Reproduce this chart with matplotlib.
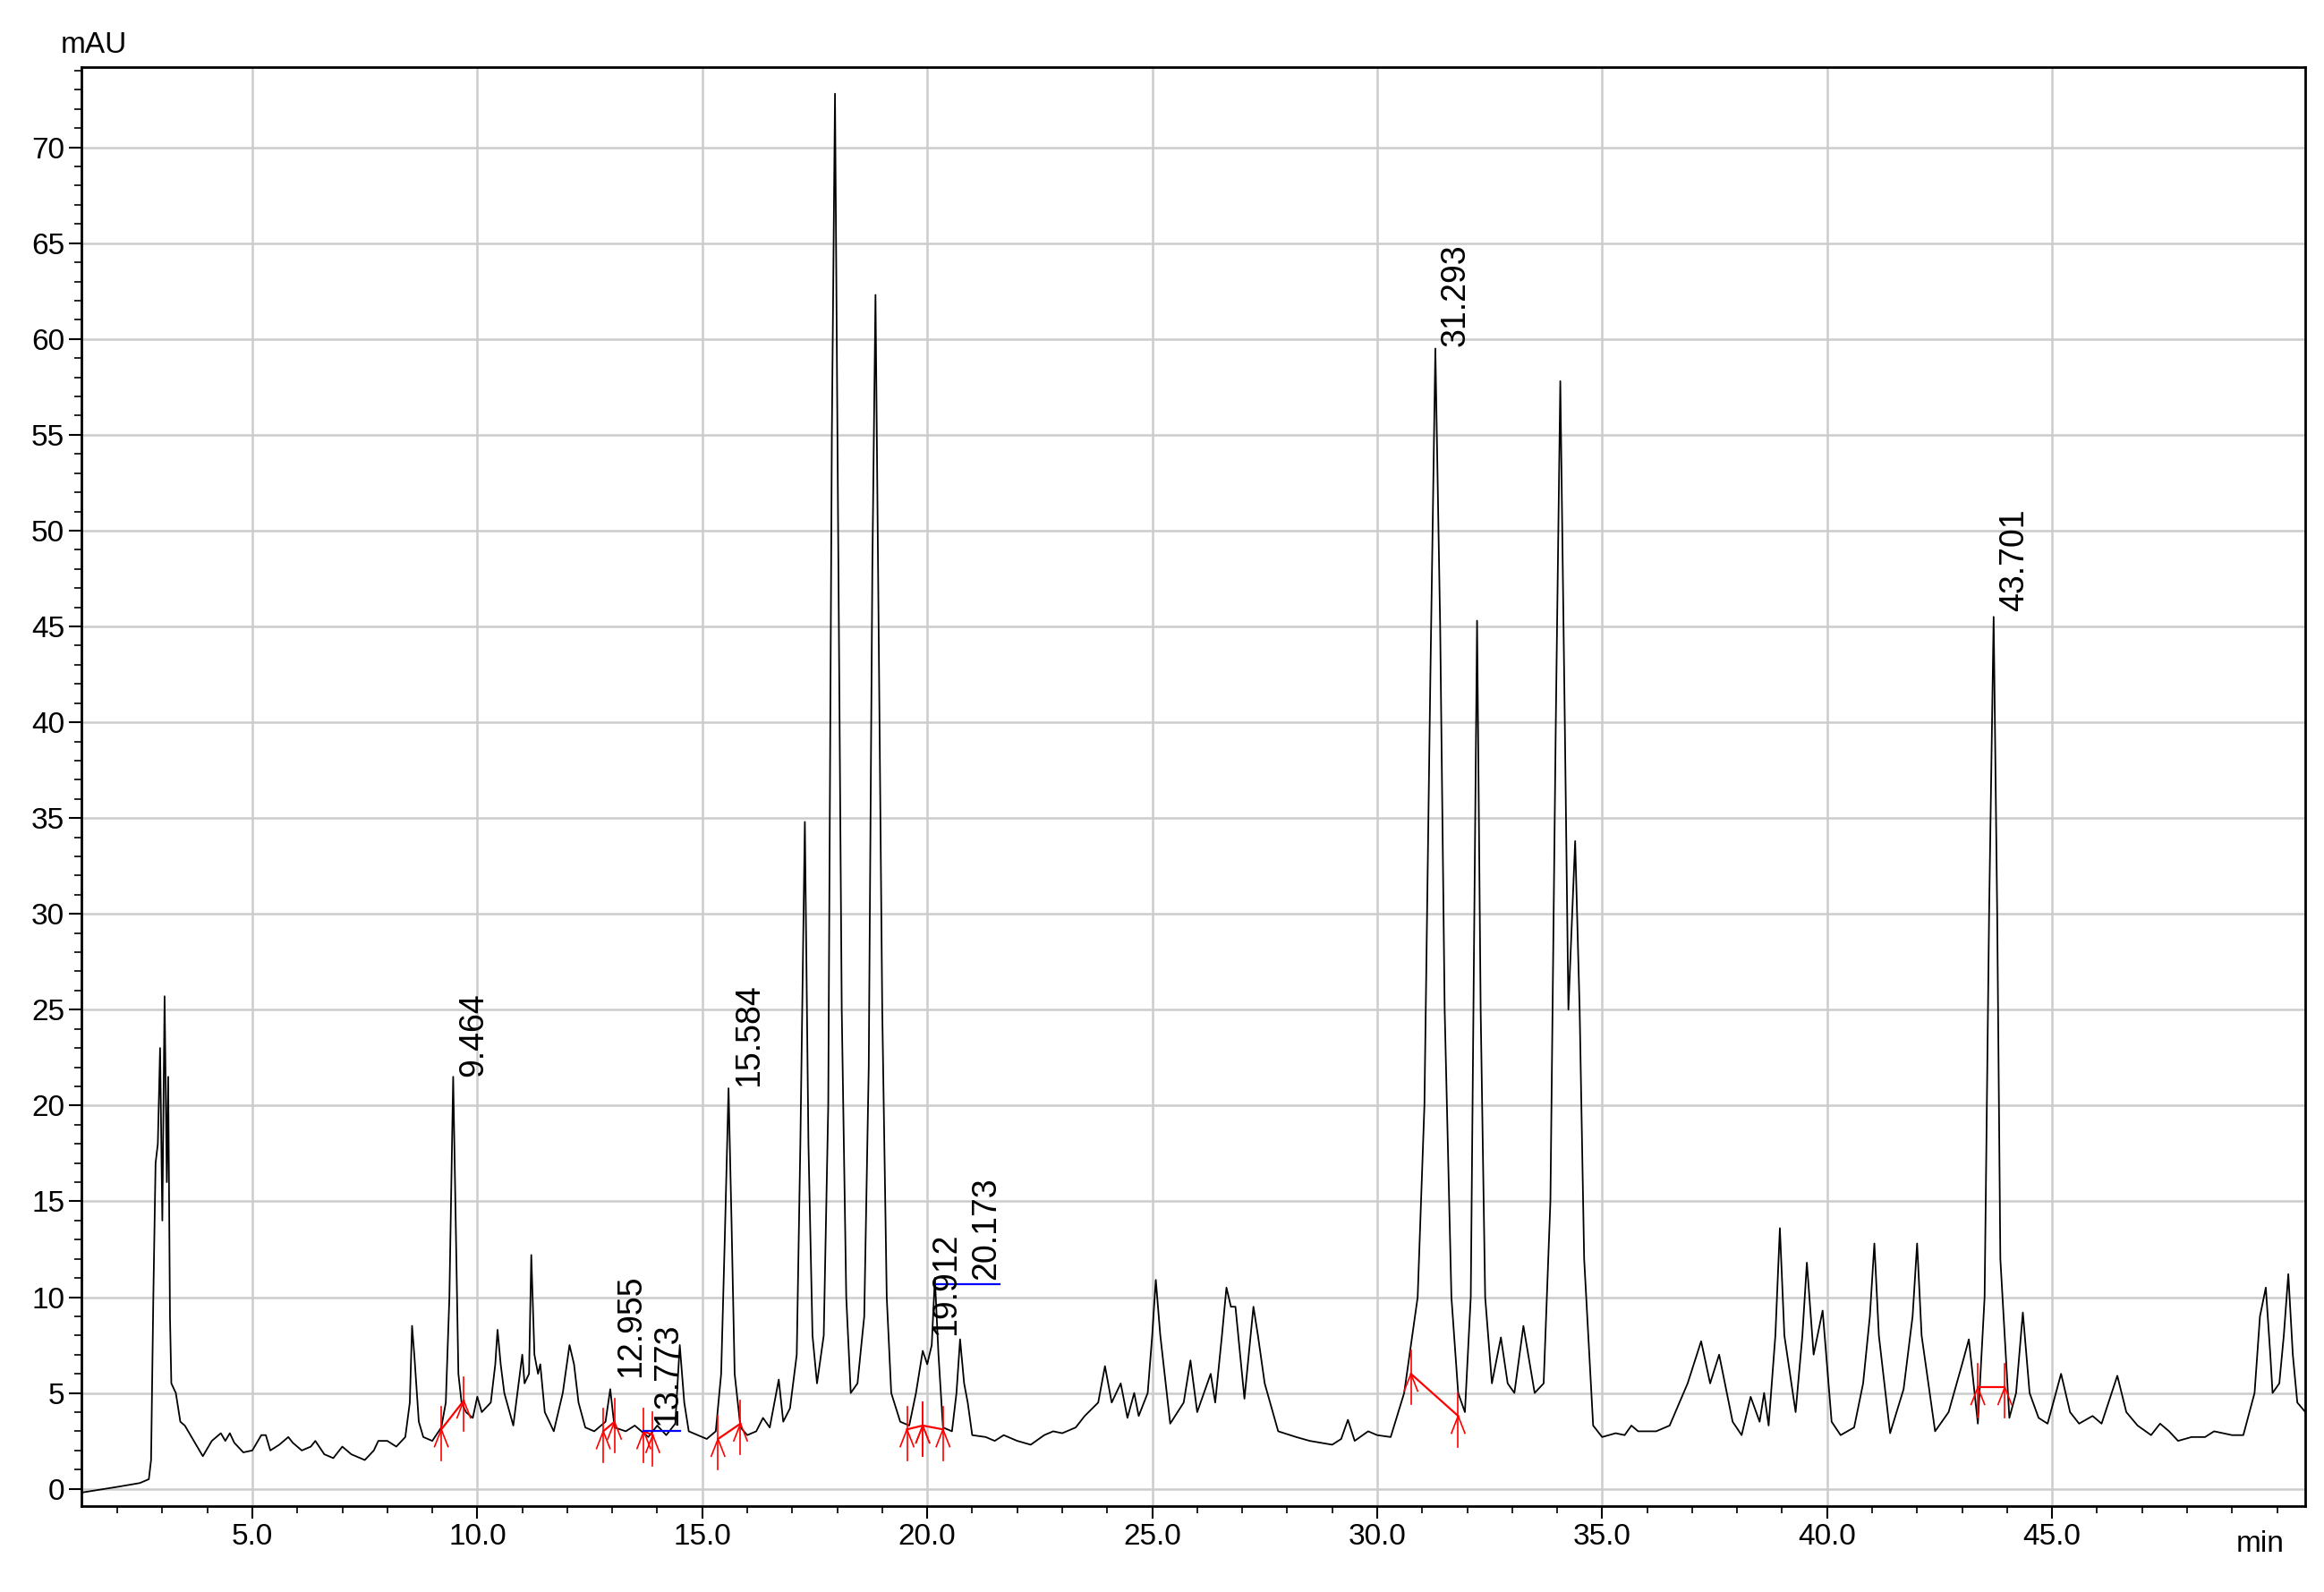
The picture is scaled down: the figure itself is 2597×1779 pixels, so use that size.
import matplotlib
matplotlib.use('Agg')
import matplotlib.pyplot as plt
from matplotlib.ticker import MultipleLocator

# trace (min, mAU)
t = [1.2, 2.0, 2.5, 2.7, 2.75, 2.8, 2.85, 2.9, 2.95, 3.0, 3.05, 3.1, 3.13, 3.17, 3.2, 3.3, 3.4, 3.5,
     3.7, 3.9, 4.1, 4.3, 4.4, 4.5, 4.6, 4.8, 5.0, 5.2, 5.3, 5.4, 5.6, 5.8, 5.9, 6.1, 6.3, 6.4, 6.6,
     6.8, 7.0, 7.2, 7.5, 7.7, 7.8, 8.0, 8.2, 8.4, 8.5, 8.55, 8.6, 8.7, 8.8, 9.0, 9.2, 9.3, 9.38,
     9.464, 9.52, 9.58, 9.65, 9.75, 9.9, 10.0, 10.1, 10.3, 10.4, 10.45, 10.52, 10.6, 10.8, 11.0,
     11.05, 11.15, 11.2, 11.27, 11.35, 11.4, 11.5, 11.7, 11.9, 12.05, 12.15, 12.25, 12.4, 12.6,
     12.85, 12.955, 13.05, 13.3, 13.5, 13.8, 14.0, 14.2, 14.4, 14.5, 14.6, 14.7, 14.9, 15.1, 15.3,
     15.42, 15.5, 15.584, 15.65, 15.72, 15.85, 16.0, 16.2, 16.35, 16.5, 16.7, 16.8, 16.95, 17.1,
     17.18, 17.28, 17.36, 17.45, 17.55, 17.7, 17.8, 17.88, 17.95, 18.02, 18.1, 18.2, 18.3, 18.45,
     18.6, 18.7, 18.78, 18.85, 18.92, 19.0, 19.1, 19.2, 19.4, 19.6, 19.75, 19.9, 20.0, 20.1, 20.17,
     20.25, 20.35, 20.55, 20.65, 20.73, 20.82, 20.9, 21.0, 21.3, 21.5, 21.7, 22.0, 22.3, 22.6, 22.8,
     23.0, 23.3, 23.5, 23.8, 23.95, 24.1, 24.3, 24.45, 24.6, 24.7, 24.9, 25.0, 25.08, 25.18, 25.4,
     25.7, 25.85, 26.0, 26.15, 26.3, 26.4, 26.55, 26.65, 26.75, 26.85, 27.05, 27.25, 27.35, 27.5,
     27.8, 28.2, 28.5, 29.0, 29.2, 29.35, 29.5, 29.8, 30.0, 30.3, 30.6, 30.9, 31.05, 31.18, 31.293,
     31.4, 31.5, 31.65, 31.8, 31.95, 32.08, 32.16, 32.22, 32.3, 32.4, 32.55, 32.75, 32.9, 33.05,
     33.25, 33.5, 33.7, 33.85, 33.97, 34.07, 34.17, 34.25, 34.3, 34.4, 34.5, 34.6, 34.8, 35.0,
     35.3, 35.5, 35.65, 35.8, 36.2, 36.5, 36.9, 37.2, 37.4, 37.6, 37.9, 38.1, 38.3, 38.5, 38.6,
     38.7, 38.85, 38.95, 39.05, 39.3, 39.45, 39.55, 39.7, 39.9, 40.1, 40.3, 40.6, 40.8, 40.95,
     41.05, 41.15, 41.4, 41.7, 41.9, 42.0, 42.1, 42.4, 42.7, 43.0, 43.15, 43.35, 43.5, 43.6, 43.701,
     43.78, 43.85, 44.05, 44.2, 44.35, 44.5, 44.7, 44.9, 45.2, 45.4, 45.6, 45.9, 46.1, 46.45,
     46.65, 46.9, 47.2, 47.4, 47.6, 47.8, 48.1, 48.4, 48.6, 49.0, 49.25, 49.5, 49.62, 49.75, 49.85,
     49.9, 50.05, 50.15, 50.25, 50.35, 50.45, 50.63]
mau = [-0.2, 0.1, 0.3, 0.5, 1.5, 10, 17, 18, 23, 14, 25.7, 16, 21.5, 9, 5.5, 5, 3.5, 3.3,
       2.5, 1.7, 2.5, 2.9, 2.5, 2.9, 2.4, 1.9, 2.0, 2.8, 2.8, 2.0, 2.3, 2.7, 2.4, 2.0, 2.2, 2.5, 1.8,
       1.6, 2.2, 1.8, 1.5, 2.0, 2.5, 2.5, 2.2, 2.7, 4.5, 8.5, 7, 3.5, 2.7, 2.5, 3.2, 4.5, 10,
       21.5, 14, 6, 4.5, 4.0, 3.7, 4.8, 4.0, 4.5, 6.5, 8.3, 6.5, 5, 3.3, 7.0,
       5.5, 6, 12.2, 7, 6, 6.5, 4, 3, 5, 7.5, 6.5, 4.5, 3.2, 3.0,
       3.5, 5.2, 3.2, 3.0, 3.3, 2.7, 3.3, 2.8, 3.4, 7.5, 4.5, 3.0, 2.8, 2.6, 3.0,
       6, 13, 20.9, 14, 6, 3.2, 2.8, 3.0, 3.7, 3.2, 5.7, 3.5, 4.2, 7,
       18, 34.8, 18, 8, 5.5, 8, 20, 55, 72.8, 50, 25, 10, 5, 5.5,
       9, 22, 48, 62.3, 45, 25, 10, 5, 3.5, 3.3, 5, 7.2, 6.5, 7.5, 11,
       7, 3.2, 3.0, 5, 7.8, 5.5, 4.5, 2.8, 2.7, 2.5, 2.8, 2.5, 2.3, 2.8, 3.0,
       2.9, 3.2, 3.8, 4.5, 6.4, 4.5, 5.5, 3.7, 5, 3.8, 5, 8, 10.9, 8, 3.4,
       4.5, 6.7, 4, 5, 6, 4.5, 8, 10.5, 9.5, 9.5, 4.7, 9.5, 8, 5.5,
       3.0, 2.7, 2.5, 2.3, 2.6, 3.6, 2.5, 3.0, 2.8, 2.7, 5, 10, 20, 42, 59.5,
       45, 25, 10, 5, 4.0, 10, 30, 45.3, 25, 10, 5.5, 7.9, 5.5, 5,
       8.5, 5, 5.5, 15, 40, 57.8, 40, 25, 28, 33.8, 25, 12, 3.3, 2.7,
       2.9, 2.8, 3.3, 3.0, 3.0, 3.3, 5.5, 7.7, 5.5, 7, 3.5, 2.8, 4.8, 3.5, 5,
       3.3, 8, 13.6, 8, 4, 8, 11.8, 7, 9.3, 3.5, 2.8, 3.2, 5.5, 9,
       12.8, 8, 2.9, 5.2, 9, 12.8, 8, 3.0, 4, 6.5, 7.8, 3.4, 10, 30, 45.5,
       30, 12, 3.7, 5, 9.2, 5, 3.7, 3.4, 6.0, 4.0, 3.4, 3.8, 3.4, 5.9,
       4, 3.3, 2.8, 3.4, 3.0, 2.5, 2.7, 2.7, 3, 2.8, 2.8, 5, 9, 10.5, 7,
       5, 5.5, 8, 11.2, 7, 4.5, 4.0]

# labelled peaks
peak_rt = [9.464, 12.955, 13.773, 15.584, 19.912, 20.173, 31.293, 43.701]
label_x = [9.56, 13.05, 13.87, 15.68, 20.05, 20.95, 31.39, 43.8]
label_y = [21.5, 5.8, 3.3, 21.0, 8.0, 10.9, 59.6, 45.8]

# integration baselines (red) and marker positions
red_segs = [((9.2, 9.7), (3.1, 4.6)), ((12.8, 13.05), (3.0, 3.5)), ((13.7, 13.9), (3.0, 2.8)),
            ((15.35, 15.85), (2.6, 3.4)), ((19.55, 19.9), (3.1, 3.3)), ((19.9, 20.35), (3.3, 3.1)),
            ((30.75, 31.8), (6.0, 3.8)), ((43.35, 43.95), (5.3, 5.3))]
blue_segs = [((13.7, 14.5), (3.0, 3.0)), ((20.2, 21.6), (10.7, 10.7))]

fig = plt.figure(figsize=(25.97, 17.79), dpi=100)
ax = fig.add_axes([0.035, 0.054, 0.957, 0.904])

ax.plot(t, mau, color='black', linewidth=1.3, zorder=3)

for xs, ys in red_segs:
    ax.plot(xs, ys, color='red', linewidth=1.6, zorder=4)
    for x0, y0 in zip(xs, ys):
        ax.plot([x0, x0], [y0 - 1.6, y0 + 1.2], color='red', linewidth=1.2, zorder=4)
        ax.plot([x0 - 0.15, x0, x0 + 0.15], [y0 - 0.9, y0, y0 - 0.9], color='red', linewidth=1.2, zorder=4)
for xs, ys in blue_segs:
    ax.plot(xs, ys, color='blue', linewidth=1.6, zorder=4)

for rt, lx, ly in zip(peak_rt, label_x, label_y):
    ax.text(lx, ly, f'{rt:.3f}', rotation=90, fontsize=27, ha='left', va='bottom',
            family='Liberation Sans', zorder=5)

ax.set_xlim(1.2, 50.63)
ax.set_ylim(-0.9, 74.2)
ax.xaxis.set_minor_locator(MultipleLocator(1))
ax.yaxis.set_major_locator(MultipleLocator(5))
ax.yaxis.set_minor_locator(MultipleLocator(1))
ax.set_xticks([5, 10, 15, 20, 25, 30, 35, 40, 45])
ax.set_xticklabels([f'{v:.1f}' for v in [5, 10, 15, 20, 25, 30, 35, 40, 45]])
ax.tick_params(which='major', direction='out', length=10, width=1.5, labelsize=24)
ax.tick_params(which='minor', direction='out', length=6, width=1.2)
for lab in ax.get_xticklabels() + ax.get_yticklabels():
    lab.set_family('Liberation Sans')
ax.grid(True, which='major', color='#cccccc', linewidth=1.8, zorder=0)
for s in ax.spines.values():
    s.set_linewidth(2)

fig.text(0.026, 0.963, 'mAU', fontsize=24, family='Liberation Sans', va='bottom')
fig.text(0.962, 0.03, 'min', fontsize=24, family='Liberation Sans', va='center')

fig.savefig('out.png', dpi=100)
